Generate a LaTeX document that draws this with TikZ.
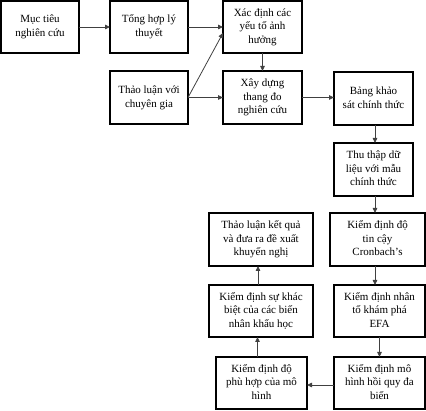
\documentclass[tikz,border=0pt]{standalone}
\usepackage{fontspec}
\setmainfont{Liberation Serif}
\usetikzlibrary{arrows.meta,calc}
\tikzset{
  box/.style={draw=black,line width=1.3pt,inner sep=0pt,outer sep=0pt,align=center,
    font=\fontsize{11}{13.6}\selectfont},
  arr/.style={draw=black!75,line width=0.8pt,-{Triangle[length=5pt,width=4.5pt]}}
}
\newcommand{\bx}[6]{% name x0 y0 x1 y1 text
  \node[box,minimum width={(#4-#2)*1pt},minimum height={(#5-#3)*1pt}]
    (#1) at ({(#2+#4)/2*1pt},{-(#3+#5)/2*1pt}) {\raisebox{2pt}{\begin{tabular}{@{}c@{}}#6\end{tabular}}};}
\begin{document}
\begin{tikzpicture}[x=1pt,y=1pt]
\useasboundingbox (0,0) rectangle (426,-411);
\bx{n1}{1}{1}{79}{53}{Mục tiêu\\nghiên cứu}
\bx{n2}{110}{1}{188}{53}{Tổng hợp lý\\thuyết}
\bx{n3}{223}{1}{302}{53}{Xác định các\\yếu tố ảnh\\hưởng}
\bx{n4}{110}{71}{188}{124}{Thảo luận với\\chuyên gia}
\bx{n5}{223}{71}{302}{124}{Xây dựng\\thang đo\\nghiên cứu}
\bx{n6}{334}{72}{413}{125}{Bảng khảo\\sát chính thức}
\bx{n7}{334}{143}{413}{196}{Thu thập dữ\\liệu với mẫu\\chính thức}
\bx{n8}{330}{213}{425}{266}{Kiểm định độ\\tin cậy\\Cronbach's}
\bx{n9}{209}{213}{313}{266}{Thảo luận kết quả\\và đưa ra đề xuất\\khuyến nghị}
\bx{n10}{334}{285}{425}{337}{Kiểm định nhân\\tố khám phá\\EFA}
\bx{n11}{209}{285}{313}{337}{Kiểm định sự khác\\biệt của các biến\\nhân khẩu học}
\bx{n12}{334}{357}{425}{409}{Kiểm định mô\\hình hồi quy đa\\biến}
\bx{n13}{216}{357}{307}{409}{Kiểm định độ\\phù hợp của mô\\hình}
\draw[arr] (n1.east) -- (n2.west);
\draw[arr] (n2.east) -- (n3.west |- n2.east);
\draw[arr] (n4.east) -- ([yshift=20pt]n3.south west);
\draw[arr] (n4.east) -- (n5.west);
\draw[arr] (n3.south) -- (n5.north);
\draw[arr] (n5.east) -- (n5.east -| n6.west);
\draw[arr] ([xshift=1.5pt]n6.south) -- ([xshift=1.5pt]n7.north);
\draw[arr] ([xshift=1.5pt]n7.south) -- ([xshift=1.5pt]n7.south |- n8.north);
\draw[arr] ([xshift=-2.5pt]n8.south) -- ([xshift=-2.5pt]n8.south |- n10.north);
\draw[arr] (n10.south) -- (n12.north);
\draw[arr] ([yshift=-2pt]n12.west) -- ([yshift=-2pt]n13.east);
\draw[arr] ([xshift=-4pt]n13.north) -- ([xshift=-4pt]n13.north |- n11.south);
\draw[arr] ([xshift=-3pt]n11.north) -- ([xshift=-3pt]n11.north |- n9.south);
\end{tikzpicture}
\end{document}
